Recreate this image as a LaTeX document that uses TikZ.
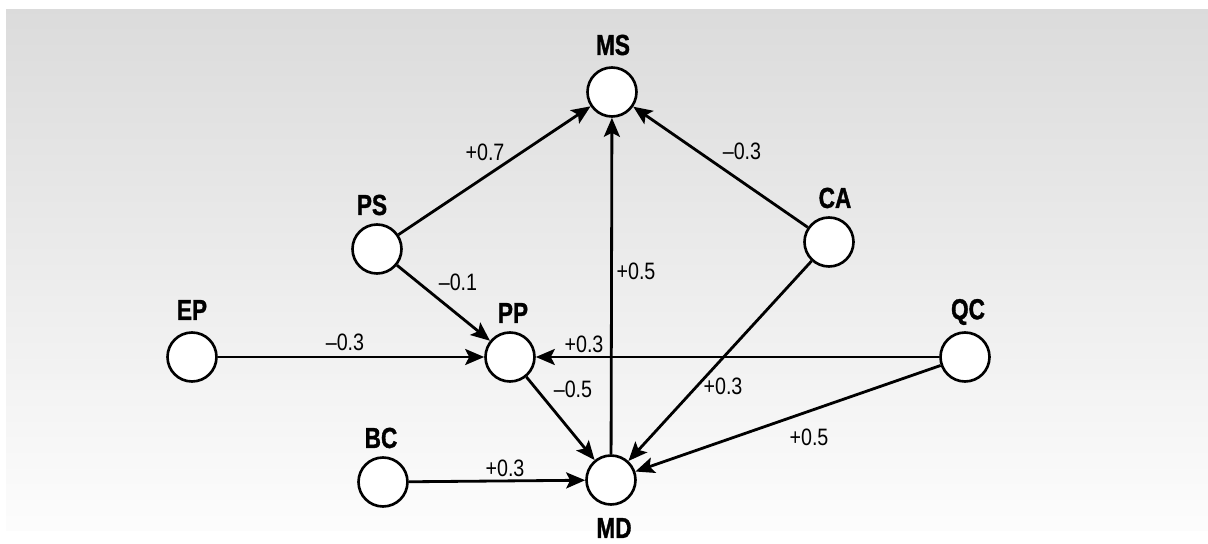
\documentclass[tikz,border=0pt]{standalone}
\usepackage{fontspec}
\setmainfont{Liberation Sans}[FakeStretch=0.83]
\newfontfamily\heavyfont{Liberation Sans Bold}[FakeStretch=0.78, FakeBold=1.2]
\usetikzlibrary{arrows.meta}

\begin{document}
\begin{tikzpicture}[
    x=0.02cm, y=-0.02cm,
    unit/.style={draw, circle, fill=white, line width=1.5pt, minimum size=0.98cm, inner sep=0pt},
    tag/.style={font=\fontsize{16.5}{18}\heavyfont},
    wt/.style={font=\fontsize{13.5}{15}\selectfont},
    link/.style={line width=1.6pt, -{Stealth[length=0.38cm, width=0.32cm, inset=0.08cm]}}
  ]
  \useasboundingbox (0,0) rectangle (1208,544);
  % panel
  \shade[top color=black!14, bottom color=black!1] (6,10) rectangle (1208,530);

  % factors
  \node[unit] (MS) at (612,92) {};
  \node[unit] (PS) at (377,249) {};
  \node[unit] (CA) at (829,242) {};
  \node[unit] (EP) at (192,357) {};
  \node[unit] (PP) at (510,357) {};
  \node[unit] (QC) at (965,357) {};
  \node[unit] (BC) at (383,482) {};
  \node[unit] (MD) at (611,480) {};

  \node[tag] (MS-t) at (613,45) {MS};
  \node[tag] (PS-t) at (372,205) {PS};
  \node[tag] (CA-t) at (835,198) {CA};
  \node[tag] (EP-t) at (192,310) {EP};
  \node[tag] (PP-t) at (513,313) {PP};
  \node[tag] (QC-t) at (968,312) {QC};
  \node[tag] (BC-t) at (381,438) {BC};
  \node[tag] (MD-t) at (614,528) {MD};

  % influences
  \draw[link] (PS) -- (MS);
  \draw[link] (CA) -- (MS);
  \draw[link] (MD) -- (MS);
  \draw[link] (PS) -- (PP);
  \draw[link] (EP) -- (PP);
  \draw[link] (QC) -- (PP);
  \draw[link] (PP) -- (MD);
  \draw[link] (CA) -- (MD);
  \draw[link] (QC) -- (MD);
  \draw[link] (BC) -- (MD);

  % weights
  \node[wt] (w1) at (485,152) {+0.7};
  \node[wt] (w2) at (742,151) {--0.3};
  \node[wt] (w3) at (636,271) {+0.5};
  \node[wt] (w4) at (458,282) {--0.1};
  \node[wt] (w5) at (345,342) {--0.3};
  \node[wt] (w6) at (584,344) {+0.3};
  \node[wt] (w7) at (573,389) {--0.5};
  \node[wt] (w8) at (723,386) {+0.3};
  \node[wt] (w9) at (809,437) {+0.5};
  \node[wt] (w10) at (505,468) {+0.3};
\end{tikzpicture}
\end{document}
